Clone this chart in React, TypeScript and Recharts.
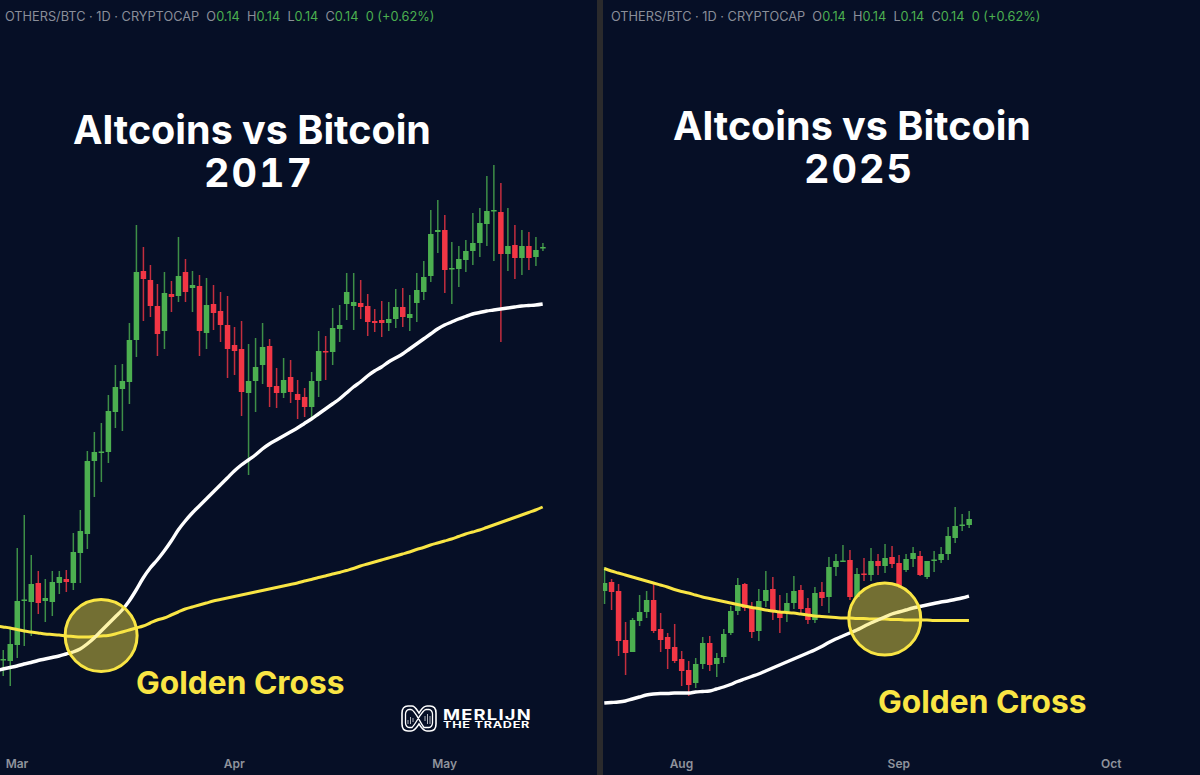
import React from 'react';
import { ComposedChart, Bar, Line, XAxis, YAxis, ReferenceDot } from 'recharts';

// -- values, arbitrary price units (index of OTHERS/BTC) --
// the first left row has no candle, it only carries the averages up to the panel edge

const leftOpen = [null, 115.5, 114, 130, 174.5, 173, 192, 174, 173, 192, 196, 192, 222, 241, 314, 322.5, 323, 363, 386, 393, 435, 504, 495, 469, 444, 481, 479, 503, 487, 489, 442, 471, 464, 450, 430, 426, 382, 394, 410, 429, 389, 382, 398, 381, 378, 368, 394, 424, 423, 446, 471, 469, 472, 469, 454, 455, 452, 456, 468, 457, 472, 483, 499, 543, 545, 506, 506, 515, 524, 532, 551, 564, 563, 521, 530, 517, 529, 518, 527];
const leftHigh = [null, 125, 147, 227, 260, 220, 204, 196, 204, 204, 205, 242, 265, 324, 343, 352, 380, 410, 411, 452, 550, 528, 510, 491, 503, 494, 538, 516, 504, 500, 497, 490, 483, 479, 448, 454, 431, 437, 452, 436, 407, 417, 415, 395, 387, 403, 444, 439, 467, 470, 502, 502, 495, 481, 466, 474, 473, 486, 487, 480, 502, 514, 565, 575, 560, 533, 529, 535, 562, 567, 599, 610, 592, 567, 550, 545, 543, 538, 532];
const leftLow = [null, 99, 89, 117, 129, 139, 161, 153, 159, 181, 183, 185, 192, 226, 278, 293, 312, 347, 344, 371, 418, 454, 458, 419, 426, 463, 473, 473, 463, 419, 426, 445, 433, 397, 400, 359, 300, 363, 391, 368, 367, 377, 372, 356, 358, 358, 378, 395, 410, 433, 455, 445, 456, 439, 443, 438, 444, 447, 448, 444, 453, 475, 493, 522, 482, 471, 488, 503, 510, 518, 529, 514, 433, 504, 496, 500, 505, 509, 524];
const leftClose = [null, 116, 131, 174, 175.5, 191, 172, 177, 193, 198, 193, 223, 244, 314, 323, 323.5, 364, 388, 394, 435, 503, 496, 469, 441, 482, 478, 499, 483, 490, 444, 470, 462, 450, 426, 424, 383, 394, 408, 428, 388, 382, 395, 383, 375, 368, 394, 424, 423, 447, 450, 483, 473, 468, 453, 452, 452, 456, 468, 458, 461, 485, 498, 541, 545, 505, 507, 516, 524, 532, 552, 564, 565, 521, 529, 517, 529, 517, 525, 528];
const leftFast = [104.5, 106, 107.5, 109, 111, 112.5, 114.5, 116, 117.5, 119, 121, 123, 126, 131, 137, 144, 151, 158, 165, 174, 185, 197, 207, 215, 224, 234, 245, 254, 262, 269, 276, 283, 290, 297, 304, 310, 315, 320, 326, 331, 335, 339, 343, 347, 351.5, 356, 361, 366, 371, 376, 382, 388, 393, 399, 404, 408, 413, 417, 421, 426, 431, 436, 441, 446, 450, 453, 456, 458.5, 461, 462.5, 464, 465, 466, 467, 468, 469, 469.5, 470, 471];
const leftSlow = [149, 148, 147, 145.5, 144, 143, 142, 141, 140.5, 140, 139, 138.5, 138, 138, 138.5, 139, 139.5, 141, 143, 145, 147, 149, 152, 155, 157, 160, 163, 166, 168, 170, 172, 174, 175.5, 177, 178.5, 180, 181.5, 183, 184.5, 186, 187.5, 189, 190.5, 192, 194, 195.5, 197.5, 199, 201, 202.5, 204.5, 206.5, 209, 211, 213, 215, 217, 219, 221, 223, 225.5, 227.5, 230, 232, 234, 236, 238.5, 241, 243, 245, 247.5, 250, 252.5, 255, 257.5, 260, 262.5, 265, 268];

const rightOpen = [184, 193, 184, 135, 123, 154, 163, 175, 146, 138, 128, 116, 105, 92, 111, 132, 111, 118, 142, 164, 191, 168, 144, 174, 186, 162, 162, 172, 185, 167, 155, 183, 178, 208, 214, 215, 178, 201.5, 200, 214, 209, 218, 212, 205, 216, 219, 198, 214.5, 215, 221, 237, 249.5, 250];
const rightHigh = [208, 196, 191, 153, 157, 180, 184, 193, 162, 142, 151, 124, 114, 117, 138, 139, 122, 146, 169, 197, 192, 173, 186, 204, 198, 180, 182, 199, 190, 177, 188, 193, 218, 221, 230, 225, 207, 217, 227, 221, 231, 229, 220, 221, 228, 224, 214, 224, 228, 248, 268, 261, 264];
const rightLow = [171, 165, 119, 100, 123, 149, 157, 142, 123, 106, 112, 89, 79, 87, 106, 104, 98, 112, 140, 160, 164, 137, 134, 168, 155, 142, 153, 166, 161, 151, 152, 169, 162, 199, 213, 175, 178, 194, 194, 200, 202, 207, 187, 203, 208, 199, 196, 203, 212, 215, 232, 244, 247];
const rightClose = [192, 183, 134, 122, 155, 163, 175, 144, 135, 126, 114, 104, 90, 111, 132, 110, 117, 141, 164, 190, 167, 143, 174, 185, 163, 157, 172, 184, 166, 155, 182, 177, 208, 214, 214.5, 178, 201, 200.5, 214, 209, 217, 211, 189, 216, 222, 200, 214, 215.5, 221, 239, 249, 250.5, 256];
const rightFast = [72, 72.5, 73, 74, 76, 78, 80, 81, 81.5, 81.5, 82, 82, 82, 83, 83.5, 84, 86, 88, 90.5, 93.5, 96, 98.5, 101, 104, 107, 110, 113, 116, 119, 122, 125, 128.5, 132.5, 136, 139, 142, 145, 148.5, 152, 155, 158, 161, 163, 165, 167, 168.5, 170, 171.5, 173, 174, 175.5, 177, 179];
const rightSlow = [206.5, 204, 202, 200, 198, 196, 194, 192, 190, 188, 185.5, 183.5, 182, 180, 178, 176.5, 175, 173.5, 172, 170.5, 169, 167.5, 166.5, 165, 164, 163, 162.5, 162, 161, 160, 159, 158.5, 158, 157.5, 157, 157, 156.5, 156.5, 156, 156, 156, 155.5, 155.5, 155, 155, 155, 155, 154.5, 154.5, 154.5, 154.5, 154.5, 154.5];

const leftTicks = [2, 33, 63];
const leftTickLabels = ['Mar', 'Apr', 'May'];
const rightTicks = [11, 42, 72.3];
const rightTickLabels = ['Aug', 'Sep', 'Oct'];

const BG = '#060f26';
const GREEN = '#4caf50';
const RED = '#f23645';
const YELLOW = '#f9e544';
const FONT = 'Inter, "Noto Sans", sans-serif';

const buildRows = (start, open, high, low, close, fast, slow) =>
  fast.map((f, i) => ({
    idx: i + start,
    open: open[i],
    high: high[i],
    low: low[i],
    close: close[i],
    fast: f,
    slow: slow[i],
  }));

const leftRows = buildRows(-1, leftOpen, leftHigh, leftLow, leftClose, leftFast, leftSlow);
const rightRows = buildRows(0, rightOpen, rightHigh, rightLow, rightClose, rightFast, rightSlow);

const Candle = (props: any) => {
  const { x, y, width, height, payload } = props;
  if (payload.high == null || !height) return null;
  const perUnit = height / (payload.high - payload.low);
  const up = payload.close >= payload.open;
  const top = y + (payload.high - Math.max(payload.open, payload.close)) * perUnit;
  const bodyH = Math.max(Math.abs(payload.open - payload.close) * perUnit, 1.5);
  const mid = x + width / 2;
  const color = up ? GREEN : RED;
  return (
    <g>
      <line x1={mid} x2={mid} y1={y} y2={y + height} stroke={color} strokeOpacity={0.8} strokeWidth={1.5} />
      <rect x={x} y={top} width={width} height={bodyH} fill={color} />
    </g>
  );
};

const Panel = ({ rows, domain, ticks, tickLabels, cross }: any) => (
  <ComposedChart width={597} height={775} data={rows} margin={{ top: 0, right: 0, bottom: 0, left: 0 }}>
    <XAxis
      dataKey="idx"
      type="number"
      domain={domain}
      allowDataOverflow
      ticks={ticks}
      interval={0}
      height={25}
      tickLine={false}
      axisLine={false}
      tickMargin={3}
      tickFormatter={(v) => tickLabels[ticks.indexOf(v)]}
      tick={{ fill: '#8f939c', fontSize: 12, fontWeight: 600, fontFamily: FONT }}
    />
    <YAxis hide type="number" domain={[25, 775]} allowDataOverflow />
    <Bar
      dataKey={(d) => (d.high == null ? null : [d.low, d.high])}
      barSize={5.5}
      shape={Candle}
      isAnimationActive={false}
    />
    <ReferenceDot
      x={cross[0]}
      y={cross[1]}
      r={36}
      fill={YELLOW}
      fillOpacity={0.45}
      stroke={YELLOW}
      strokeWidth={3}
    />
    <Line type="monotone" dataKey="slow" stroke={YELLOW} strokeWidth={3} dot={false} activeDot={false} isAnimationActive={false} />
    <Line type="monotone" dataKey="fast" stroke="#ffffff" strokeWidth={3.4} dot={false} activeDot={false} isAnimationActive={false} />
  </ComposedChart>
);

const Header = ({ left }: any) => (
  <div
    style={{
      position: 'absolute',
      left,
      top: 10,
      fontSize: 12.75,
      lineHeight: '14px',
      color: '#8a8e99',
      fontFamily: FONT,
      whiteSpace: 'pre',
    }}
  >
    {'OTHERS/BTC · 1D · CRYPTOCAP  O'}
    <span style={{ color: GREEN }}>0.14</span>
    {'  H'}
    <span style={{ color: GREEN }}>0.14</span>
    {'  L'}
    <span style={{ color: GREEN }}>0.14</span>
    {'  C'}
    <span style={{ color: GREEN }}>0.14</span>
    <span style={{ color: GREEN }}>{'  0 (+0.62%)'}</span>
  </div>
);

const titleLine = {
  position: 'absolute',
  width: 500,
  textAlign: 'center',
  color: '#fff',
  fontFamily: FONT,
  fontWeight: 700,
  fontSize: 39.5,
  lineHeight: '40px',
} as const;

const Title = ({ cx, top, year }: any) => (
  <>
    <div style={{ ...titleLine, left: cx - 250, top }}>Altcoins vs Bitcoin</div>
    <div style={{ ...titleLine, left: cx - 243, top: top + 43, letterSpacing: 2, fontVariantNumeric: 'tabular-nums' }}>{year}</div>
  </>
);

const Cross = ({ left, top }: any) => (
  <div
    style={{
      position: 'absolute',
      left,
      top,
      color: YELLOW,
      fontFamily: FONT,
      fontWeight: 700,
      fontSize: 31.7,
      lineHeight: '38px',
      whiteSpace: 'pre',
    }}
  >
    Golden Cross
  </div>
);

const logoText = {
  position: 'absolute',
  color: '#fff',
  fontFamily: FONT,
  fontWeight: 700,
  whiteSpace: 'pre',
  transformOrigin: 'left center',
} as const;

const Logo = () => (
  <>
    <svg width={42} height={32} style={{ position: 'absolute', left: 400, top: 703 }}>
      <path
        d="M8 3 H12 C15 3 17 7 19 10 C21 7 23 3 27 3 H30 C34 3 36 6 36 10 V21 C36 25 34 28 30 28 H27 C23 28 21 24 19 21 C17 24 15 28 11 28 H8 C4 28 2 25 2 21 V10 C2 6 4 3 8 3Z"
        fill="none"
        stroke="#fff"
        strokeWidth={1.6}
      />
      <path
        d="M9 6.5 H11 C15 6.5 20 20 24 24.5 H29 C31 24.5 32.5 22 32.5 20 V11 C32.5 9 31 6.5 29 6.5 H26 C22 6.5 16 21 12 24.5 H9 C7 24.5 5.5 22 5.5 20 V11 C5.5 9 7 6.5 9 6.5Z"
        fill="none"
        stroke="#fff"
        strokeWidth={1.3}
      />
      <path d="M8 21 V17 M10.5 21 V14 M13 19 V15 M25 18 V13 M27.5 21 V11 M30 21 V13" stroke="#fff" strokeWidth={1} opacity={0.7} />
    </svg>
    <div style={{ ...logoText, left: 443, top: 708, fontSize: 15, lineHeight: '13px', letterSpacing: 1, transform: 'scaleX(1.22)' }}>MERLIJN</div>
    <div style={{ ...logoText, left: 443, top: 721, fontSize: 8.6, lineHeight: '8px', letterSpacing: 0.5, transform: 'scaleX(1.47)' }}>THE TRADER</div>
  </>
);

export default function App() {
  return (
    <div style={{ position: 'fixed', left: 0, top: 0, width: 1200, height: 775, background: BG, overflow: 'hidden' }}>
      <div style={{ position: 'absolute', left: 0, top: 0 }}>
        <Panel rows={leftRows} domain={[-0.428, 84.75]} ticks={leftTicks} tickLabels={leftTickLabels} cross={[14, 139.5]} />
      </div>
      <div style={{ position: 'absolute', left: 597, top: 0, width: 6, height: 775, background: '#2a2a2c' }} />
      <div style={{ position: 'absolute', left: 603, top: 0 }}>
        <Panel rows={rightRows} domain={[-0.185, 84.95]} ticks={rightTicks} tickLabels={rightTickLabels} cross={[40, 156]} />
      </div>
      <Header left={5} />
      <Header left={611} />
      <Title cx={252} top={110} year="2017" />
      <Title cx={852} top={106} year="2025" />
      <Cross left={136} top={664} />
      <Cross left={878} top={683} />
      <Logo />
    </div>
  );
}
